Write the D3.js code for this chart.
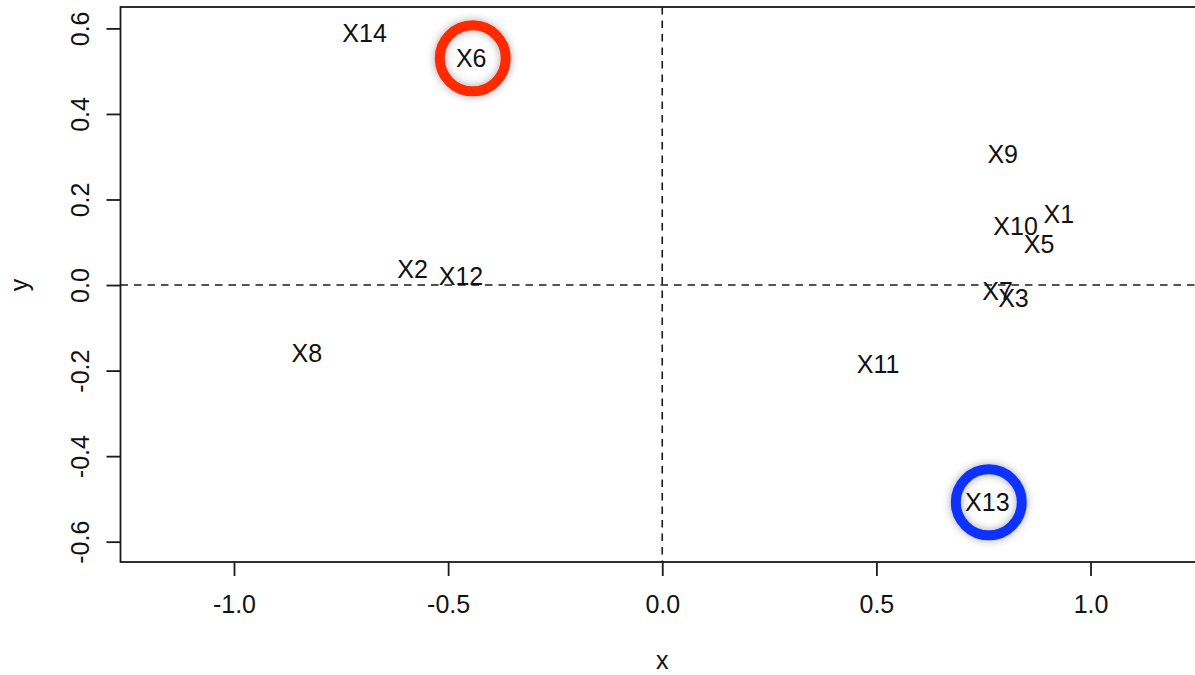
<!DOCTYPE html>
<html>
<head>
<meta charset="utf-8">
<script src="https://cdn.jsdelivr.net/npm/d3@7"></script>
<style>
  html, body { margin: 0; padding: 0; background: #ffffff; }
  svg { display: block; font-family: "Liberation Sans", Arial, Helvetica, sans-serif; }
</style>
</head>
<body>
<svg id="chart" width="1195" height="675"></svg>
<script>
// Point labels and their coordinates
const labels = ["X1", "X2", "X3", "X5", "X6", "X7", "X8", "X9", "X10", "X11", "X12", "X13", "X14"];
const xs = [0.926, -0.583, 0.820, 0.880, -0.446, 0.783, -0.830, 0.795, 0.825, 0.504, -0.470, 0.759, -0.695];
const ys = [0.165, 0.037, -0.031, 0.096, 0.530, -0.015, -0.160, 0.306, 0.138, -0.185, 0.022, -0.508, 0.590];

// Axis ticks
const xTicks = [-1.0, -0.5, 0.0, 0.5, 1.0];
const yTicks = [-0.6, -0.4, -0.2, 0.0, 0.2, 0.4, 0.6];

// Highlighted labels and ring colours
const highlighted = ["X6", "X13"];
const highlightColors = ["#ff2a00", "#0a32ff"];

const svg = d3.select("#chart");
const plot = { left: 120.5, right: 1204, top: 7, bottom: 562 };

const x = d3.scaleLinear().domain([-1.265, 1.265]).range([plot.left, plot.right]);
const y = d3.scaleLinear().domain([-0.6475, 0.650]).range([plot.bottom, plot.top]);

const fontSize = 25;
const ink = "#1a1a1a";

// soft glow behind the rings
const defs = svg.append("defs");
const f = defs.append("filter").attr("id", "glow")
  .attr("x", "-50%").attr("y", "-50%").attr("width", "200%").attr("height", "200%");
f.append("feDropShadow").attr("dx", 0).attr("dy", 0).attr("stdDeviation", 4)
  .attr("flood-color", "#000").attr("flood-opacity", 0.35);

// reference lines through the origin
svg.append("line")
  .attr("x1", x(0)).attr("x2", x(0)).attr("y1", plot.top).attr("y2", plot.bottom)
  .attr("stroke", ink).attr("stroke-width", 1.6).attr("stroke-dasharray", "7.5,6");
svg.append("line")
  .attr("x1", plot.left).attr("x2", plot.right).attr("y1", y(0)).attr("y2", y(0))
  .attr("stroke", ink).attr("stroke-width", 1.6).attr("stroke-dasharray", "7.5,6");

// highlight rings
highlighted.forEach((name, k) => {
  const i = labels.indexOf(name);
  svg.append("circle")
    .attr("cx", x(xs[i]) + 1.5).attr("cy", y(ys[i]))
    .attr("r", 33)
    .attr("fill", "none")
    .attr("stroke", highlightColors[k])
    .attr("stroke-width", 10)
    .attr("filter", "url(#glow)");
});

// point labels
svg.append("g").selectAll("text").data(labels).join("text")
  .attr("x", (d, i) => x(xs[i]))
  .attr("y", (d, i) => y(ys[i]) + 9)
  .attr("text-anchor", "middle")
  .attr("font-size", fontSize)
  .attr("fill", "#111")
  .text(d => d);

// plot frame
svg.append("rect")
  .attr("x", plot.left).attr("y", plot.top)
  .attr("width", plot.right - plot.left).attr("height", plot.bottom - plot.top)
  .attr("fill", "none").attr("stroke", ink).attr("stroke-width", 1.8);

// x axis
const xAxis = svg.append("g")
  .attr("transform", `translate(0,${plot.bottom})`)
  .call(d3.axisBottom(x).tickValues(xTicks).tickSize(14).tickPadding(0).tickFormat(d3.format(".1f")));
xAxis.select(".domain").remove();
xAxis.selectAll(".tick line").attr("stroke", ink).attr("stroke-width", 1.8);
xAxis.selectAll(".tick text")
  .attr("font-size", fontSize).attr("font-family", "Liberation Sans, Arial, sans-serif")
  .attr("fill", "#111").attr("dy", null).attr("y", 51)
  .text(d => d3.format(".1f")(d).replace("−", "-"));

// y axis
const yAxis = svg.append("g")
  .attr("transform", `translate(${plot.left},0)`)
  .call(d3.axisLeft(y).tickValues(yTicks).tickSize(14).tickFormat(d3.format(".1f")));
yAxis.select(".domain").remove();
yAxis.selectAll(".tick line").attr("stroke", ink).attr("stroke-width", 1.8);
yAxis.selectAll(".tick text")
  .attr("font-size", fontSize).attr("font-family", "Liberation Sans, Arial, sans-serif")
  .attr("fill", "#111")
  .attr("x", null).attr("dy", null)
  .attr("text-anchor", "middle")
  .attr("transform", "translate(-32,0) rotate(-90)")
  .text(d => d3.format(".1f")(d).replace("−", "-"));

// axis titles
svg.append("text")
  .attr("x", x(0)).attr("y", 669)
  .attr("text-anchor", "middle").attr("font-size", fontSize).attr("fill", "#111")
  .text("x");
svg.append("text")
  .attr("transform", `translate(28,${y(0)}) rotate(-90)`)
  .attr("text-anchor", "middle").attr("font-size", fontSize).attr("fill", "#111")
  .text("y");
</script>
</body>
</html>
